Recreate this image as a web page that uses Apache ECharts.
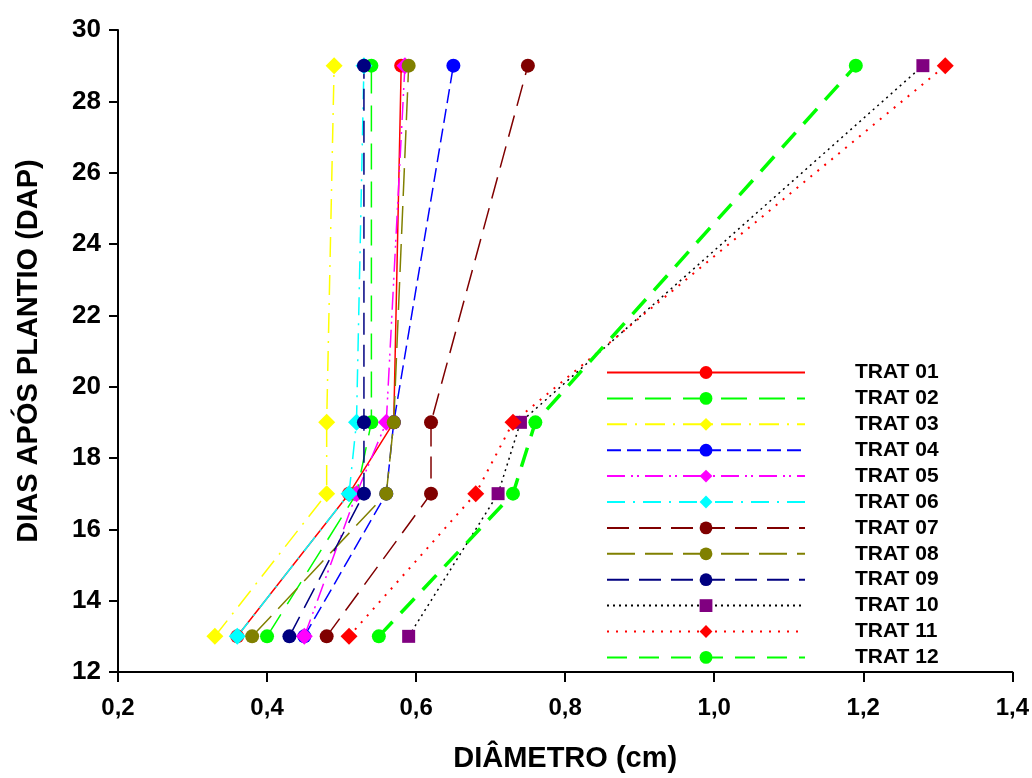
<!DOCTYPE html>
<html>
<head>
<meta charset="utf-8">
<script src="https://cdn.jsdelivr.net/npm/echarts@6/dist/echarts.min.js"></script>
<style>
html,body{margin:0;padding:0;background:#fff;}
#chart{width:1032px;height:778px;}
</style>
</head>
<body>
<div id="chart"></div>
<script>
// Days after planting (y)
var dias = [13, 17, 19, 29];
// Diameter (cm) per treatment, at each day
var trat01 = [0.36, 0.51, 0.57, 0.58];
var trat02 = [0.40, 0.52, 0.54, 0.54];
var trat03 = [0.33, 0.48, 0.48, 0.49];
var trat04 = [0.45, 0.56, 0.57, 0.65];
var trat05 = [0.45, 0.52, 0.56, 0.585];
var trat06 = [0.36, 0.51, 0.52, 0.53];
var trat07 = [0.48, 0.62, 0.62, 0.75];
var trat08 = [0.38, 0.56, 0.57, 0.59];
var trat09 = [0.43, 0.53, 0.53, 0.53];
var trat10 = [0.59, 0.71, 0.74, 1.28];
var trat11 = [0.51, 0.68, 0.73, 1.31];
var trat12 = [0.55, 0.73, 0.76, 1.19];
var names = ['TRAT 01','TRAT 02','TRAT 03','TRAT 04','TRAT 05','TRAT 06','TRAT 07','TRAT 08','TRAT 09','TRAT 10','TRAT 11','TRAT 12'];
var xTicks = [0.2, 0.4, 0.6, 0.8, 1.0, 1.2, 1.4];
var yTicks = [12, 14, 16, 18, 20, 22, 24, 26, 28, 30];

var values = [trat01, trat02, trat03, trat04, trat05, trat06, trat07, trat08, trat09, trat10, trat11, trat12];
var styles = [
  {line:'#FF0000', mark:'#FF0000', type:'solid', w:1.5, sym:'circle', size:14},
  {line:'#00FF00', mark:'#00FF00', type:[26,12], w:1.5, sym:'circle', size:14},
  {line:'#FFFF00', mark:'#FFFF00', type:[20,8,2,8], w:1.5, sym:'diamond', size:17},
  {line:'#0000FF', mark:'#0000FF', type:[14,6], w:1.5, sym:'circle', size:14},
  {line:'#FF00FF', mark:'#FF00FF', type:[18,6,2,4,2,6], w:1.5, sym:'diamond', size:17},
  {line:'#00FFFF', mark:'#00FFFF', type:[18,8,2,8], w:1.5, sym:'diamond', size:17},
  {line:'#800000', mark:'#800000', type:[22,10], w:1.5, sym:'circle', size:14},
  {line:'#808000', mark:'#808000', type:[28,10], w:1.5, sym:'circle', size:14},
  {line:'#000080', mark:'#000080', type:[22,10], w:1.5, sym:'circle', size:14},
  {line:'#000000', mark:'#800080', type:[2,4], w:1.5, sym:'rect', size:13},
  {line:'#FF0000', mark:'#FF0000', type:[2,7], w:2, sym:'diamond', size:17},
  {line:'#00FF00', mark:'#00FF00', type:[20,12], w:3.5, sym:'circle', size:14}
];

var font = "'Liberation Sans', Arial, sans-serif";
var series = values.map(function (vals, i) {
  var s = styles[i];
  return {
    name: names[i],
    type: 'line',
    data: vals.map(function (v, j) { return [v, dias[j]]; }),
    symbol: s.sym,
    symbolSize: s.size,
    lineStyle: {color: s.line, type: s.type, width: s.w},
    itemStyle: {color: s.mark},
    animation: false
  };
});

var chart = echarts.init(document.getElementById('chart'), null, {renderer: 'canvas'});
chart.setOption({
  backgroundColor: '#ffffff',
  animation: false,
  grid: {left: 118, right: 15, top: 30, bottom: 103},
  legend: {
    orient: 'vertical',
    left: 606,
    top: 362,
    padding: 0,
    itemWidth: 198,
    itemHeight: 16,
    itemGap: 4.9,
    data: names,
    textStyle: {fontFamily: font, fontWeight: 'bold', fontSize: 21, color: '#000', padding: [0, 0, 0, 45], lineHeight: 20}
  },
  xAxis: {
    type: 'value',
    min: 0.2, max: 1.4, interval: 0.2,
    name: 'DIÂMETRO (cm)',
    nameLocation: 'middle',
    nameGap: 72,
    nameTextStyle: {fontFamily: font, fontWeight: 'bold', fontSize: 29, color: '#000'},
    splitLine: {show: false},
    axisLine: {lineStyle: {color: '#000', width: 2}},
    axisTick: {inside: false, length: 10, lineStyle: {color: '#000', width: 2}},
    axisLabel: {
      margin: 24,
      fontFamily: font, fontWeight: 'bold', fontSize: 24, color: '#000',
      formatter: function (v) { return v.toFixed(1).replace('.', ','); }
    }
  },
  yAxis: {
    type: 'value',
    min: 12, max: 30, interval: 2,
    name: 'DIAS APÓS PLANTIO (DAP)',
    nameLocation: 'middle',
    nameGap: 75,
    nameTextStyle: {fontFamily: font, fontWeight: 'bold', fontSize: 29, color: '#000'},
    splitLine: {show: false},
    axisLine: {lineStyle: {color: '#000', width: 2}},
    axisTick: {inside: false, length: 9, lineStyle: {color: '#000', width: 2}},
    axisLabel: {margin: 17, fontFamily: font, fontWeight: 'bold', fontSize: 26, color: '#000'}
  },
  series: series
});
</script>
</body>
</html>
